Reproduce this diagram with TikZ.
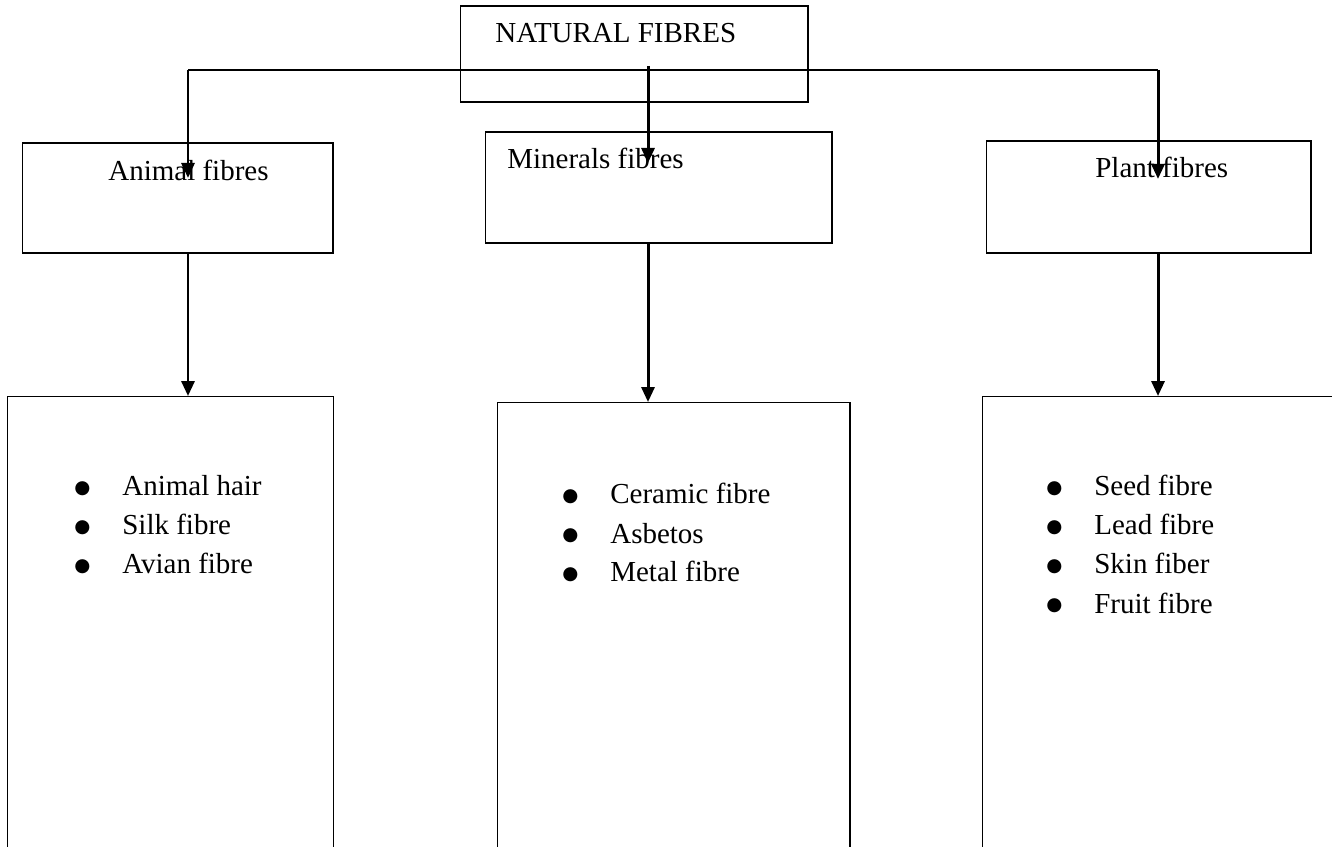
\documentclass[tikz,border=0pt]{standalone}
\usepackage{fontspec}
\setmainfont{Liberation Serif}
\newfontfamily\symfont{DejaVu Sans}
\usetikzlibrary{arrows.meta}

\newcommand{\fibreitem}[1]{\makebox[0.96cm][l]{\raisebox{1.2pt}{\symfont\fontsize{10.5pt}{12pt}\selectfont ●}}#1}

\tikzset{
	box/.style={draw, line width=0.6pt, inner sep=0pt, outer sep=0pt},
	lbl/.style={font=\fontsize{16.5pt}{20pt}\selectfont, inner sep=0pt, anchor=base west},
	item/.style={lbl},
	conn/.style={line width=1.7pt},
	arr/.style={conn, -{Triangle[length=3mm,width=2.6mm]}}
}

\begin{document}
\begin{tikzpicture}[x=0.02cm,y=-0.02cm]
		\useasboundingbox (0,0) rectangle (1332,847);
		\clip (0,0) rectangle (1332,847);

		% boxes
		\node[box, minimum width=6.96cm, minimum height=1.92cm] (nat) at (634,54) {};
		\node[box, minimum width=6.22cm, minimum height=2.2cm] (animal) at (177.5,198) {};
		\node[box, minimum width=6.94cm, minimum height=2.22cm] (mineral) at (658.5,187.5) {};
		\node[box, minimum width=6.5cm, minimum height=2.24cm] (plant) at (1148.5,197) {};
		\node[box, minimum width=6.54cm, minimum height=10.08cm] (animallist) at (170.5,648) {};
		\node[box, minimum width=7.06cm, minimum height=9.96cm] (minerallist) at (673.5,651) {};
		\node[box, minimum width=8.36cm, minimum height=10.08cm] (plantlist) at (1191,648) {};

		% headings
		\node[lbl] (natlbl) at (495,43) {NATURAL FIBRES};
		\node[lbl] (animallbl) at (108,181) {Animal fibres};
		\node[lbl] (minerallbl) at (507,169) {Minerals fibres};
		\node[lbl] (plantlbl) at (1095,178) {Plant fibres};

		% lists
		\foreach \t [count=\i] in {Animal hair, Silk fibre, Avian fibre}
			\node[item] (ai\i) at (74,{457+39*\i}) {\fibreitem{\t}};
		\foreach \t [count=\i] in {Ceramic fibre, Asbetos, Metal fibre}
			\node[item] (mi\i) at (562,{465+39*\i}) {\fibreitem{\t}};
		\foreach \t [count=\i] in {Seed fibre, Lead fibre, Skin fiber, Fruit fibre}
			\node[item] (pi\i) at (1046,{457+39*\i}) {\fibreitem{\t}};

		% connectors from the top
		\coordinate (jl) at (188,70);
		\coordinate (jr) at (1158,70);
		\coordinate (jm) at (648,66);
		\draw[conn] (jl) -- (jr);
		\draw[arr] (jl) -- (188,178);
		\draw[arr] (jm) -- (648,163);
		\draw[arr] (jr) -- (1158,179);

		% connectors to the lists
		\draw[arr] (animal.south -| jl) -- (animallist.north -| jl);
		\draw[arr] (mineral.south -| jm) -- (minerallist.north -| jm);
		\draw[arr] (plant.south -| jr) -- (plantlist.north -| jr);

	\end{tikzpicture}
\end{document}
